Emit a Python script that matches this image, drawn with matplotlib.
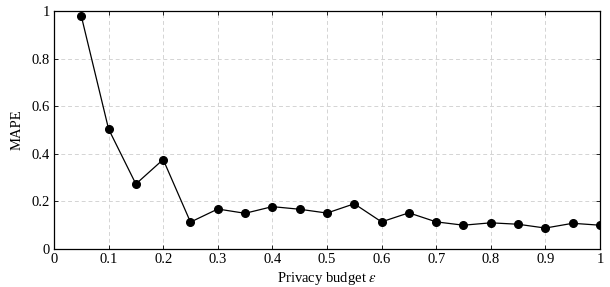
import matplotlib
matplotlib.use("Agg")
import matplotlib.pyplot as plt

# privacy budget vs MAPE
epsilon = [0.05, 0.1, 0.15, 0.2, 0.25, 0.3, 0.35, 0.4, 0.45, 0.5,
           0.55, 0.6, 0.65, 0.7, 0.75, 0.8, 0.85, 0.9, 0.95, 1.0]
mape = [0.979, 0.504, 0.273, 0.376, 0.113, 0.168, 0.150, 0.178, 0.167, 0.151,
        0.190, 0.114, 0.152, 0.114, 0.100, 0.110, 0.104, 0.088, 0.108, 0.100]

xticks = [0, 0.1, 0.2, 0.3, 0.4, 0.5, 0.6, 0.7, 0.8, 0.9, 1]
xlabels = ['0', '0.1', '0.2', '0.3', '0.4', '0.5', '0.6', '0.7', '0.8', '0.9', '1']
yticks = [0, 0.2, 0.4, 0.6, 0.8, 1]
ylabels = ['0', '0.2', '0.4', '0.6', '0.8', '1']

plt.rcParams['font.family'] = 'Liberation Serif'
plt.rcParams['mathtext.fontset'] = 'stix'

fig = plt.figure(figsize=(6.1, 2.87), dpi=100)
ax = fig.add_axes([0.0885, 0.1324, 0.895, 0.8293])

ax.plot(epsilon, mape, color='black', linewidth=0.9, marker='o', markersize=5.5, zorder=3)

ax.set_xlim(0, 1)
ax.set_ylim(0, 1)
ax.set_xticks(xticks)
ax.set_xticklabels(xlabels)
ax.set_yticks(yticks)
ax.set_yticklabels(ylabels)
ax.tick_params(direction='in', top=True, right=True, labelsize=10.5, length=3, width=0.6, pad=3)
ax.grid(True, linestyle=(0, (4, 3)), color='#d4d4d4', linewidth=0.7)
for s in ax.spines.values():
    s.set_linewidth(0.9)

ax.set_xlabel(r'Privacy budget $\epsilon$', fontsize=10.5, labelpad=3)
ax.set_ylabel('MAPE', fontsize=10.5, labelpad=6)

fig.savefig('out.png', dpi=100)
